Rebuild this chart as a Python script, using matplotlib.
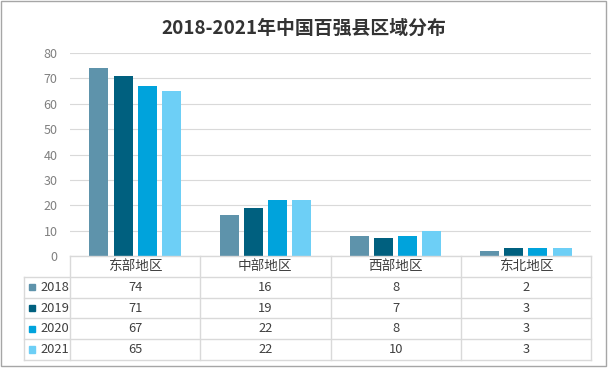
import matplotlib
matplotlib.use("Agg")
import matplotlib.pyplot as plt
from matplotlib.patches import Rectangle
from matplotlib.lines import Line2D

plt.rcParams['font.family'] = ['Noto Sans CJK SC', 'DejaVu Sans']

# 数据
regions = ["东部地区", "中部地区", "西部地区", "东北地区"]
years = ["2018", "2019", "2020", "2021"]
v2018 = [74, 16, 8, 2]
v2019 = [71, 19, 7, 3]
v2020 = [67, 22, 8, 3]
v2021 = [65, 22, 10, 3]
series = [v2018, v2019, v2020, v2021]
colors = ["#5E93AB", "#00607F", "#00A3DC", "#6DCFF6"]
yticks = [0, 10, 20, 30, 40, 50, 60, 70, 80]

W, H = 608, 369
fig = plt.figure(figsize=(W / 100, H / 100), dpi=100)


def fx(px):
    return px / W


def fy(py):
    return 1 - py / H


# 外框
fig.patches.append(Rectangle((fx(1), fy(366)), fx(605), 365 / H, transform=fig.transFigure,
                             fill=False, edgecolor="#A6A6A6", lw=1))

fig.text(0.5, fy(28), "2018-2021年中国百强县区域分布", ha="center", va="center",
         fontsize=13.6, fontweight="bold", color="#333333")

# 主图
left, right, top, bottom = 70, 591, 53, 256
ax = fig.add_axes([fx(left), fy(bottom), fx(right - left), (bottom - top) / H])
n = len(series)
for k, vals in enumerate(series):
    xs = [i + (k - (n - 1) / 2) * 0.185 for i in range(len(regions))]
    ax.bar(xs, vals, width=0.146, color=colors[k], zorder=3)
ax.set_xlim(-0.5, len(regions) - 0.5)
ax.set_ylim(0, 80)
ax.set_yticks(yticks)
ax.set_xticks([])
ax.grid(axis="y", color="#D9D9D9", lw=0.8, zorder=0)
for s in ax.spines.values():
    s.set_visible(False)
ax.tick_params(axis="y", length=0, pad=9, labelsize=9, labelcolor="#808080")

# 数据表
tb_top, tb_bot = 256, 360
tax = fig.add_axes([fx(left), fy(tb_bot), fx(right - left), (tb_bot - tb_top) / H])
tax.set_xlim(-0.5, len(regions) - 0.5)
tax.set_ylim(len(years) + 1, 0)
tax.axis("off")
xl = -0.5 - (left - 24) / (right - left) * len(regions)  # 图例列左边
lc = "#D9D9D9"
for r in range(len(years) + 2):
    x0 = -0.5 if r == 0 else xl
    tax.add_line(Line2D([x0, len(regions) - 0.5], [r, r], color=lc, lw=1, clip_on=False))
for c in range(len(regions) + 1):
    tax.add_line(Line2D([c - 0.5, c - 0.5], [0, len(years) + 1], color=lc, lw=1, clip_on=False))
tax.add_line(Line2D([xl, xl], [1, len(years) + 1], color=lc, lw=1, clip_on=False))

for i, name in enumerate(regions):
    tax.text(i, 0.5, name, ha="center", va="center", fontsize=9.8, color="#404040")
sq_w = 6 / (right - left) * len(regions)
for k, yr in enumerate(years):
    row = k + 1.5
    tax.add_patch(Rectangle((xl + 5 / (right - left) * len(regions), row - 0.15), sq_w, 0.3,
                            color=colors[k], clip_on=False))
    tax.text(xl + 16 / (right - left) * len(regions), row, yr, ha="left", va="center",
             fontsize=9.3, color="#404040")
    for i, v in enumerate(series[k]):
        tax.text(i, row, str(v), ha="center", va="center", fontsize=9.3, color="#404040")

fig.savefig("out.png", dpi=100)
